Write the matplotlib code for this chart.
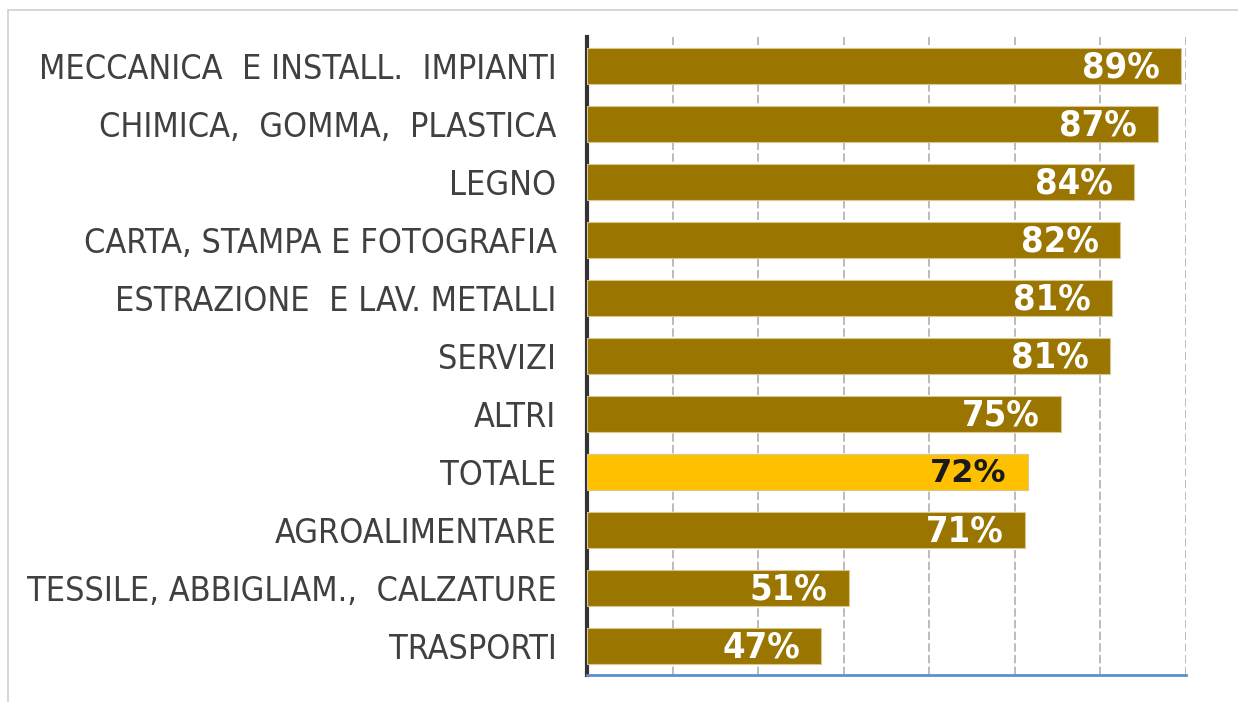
import matplotlib
matplotlib.use('Agg')
import matplotlib.pyplot as plt
from matplotlib.patches import Rectangle

# sectors, top to bottom as in the chart
sectors = ["MECCANICA  E INSTALL.  IMPIANTI", "CHIMICA,  GOMMA,  PLASTICA", "LEGNO",
           "CARTA, STAMPA E FOTOGRAFIA", "ESTRAZIONE  E LAV. METALLI", "SERVIZI",
           "ALTRI", "TOTALE", "AGROALIMENTARE", "TESSILE, ABBIGLIAM.,  CALZATURE",
           "TRASPORTI"]
values = [89.4, 86.7, 83.9, 82.3, 81.4, 81.1, 75.4, 71.5, 71.2, 50.6, 47.4]
labels = ["89%", "87%", "84%", "82%", "81%", "81%", "75%", "72%", "71%", "51%", "47%"]
highlight = "TOTALE"

gold = '#9A7500'
yellow = '#FFC000'

fig = plt.figure(figsize=(12.38, 7.02), dpi=100)
fig.patches.append(Rectangle((8/1238, -0.1), 1.2, 1 - 10/702 + 0.1,
                             transform=fig.transFigure, fill=False,
                             edgecolor='#D0D0D0', linewidth=1.2))
ax = fig.add_axes([587/1238, 1 - 675/702, 599/1238, 638/702])

ypos = list(range(len(sectors)))
colors = [yellow if s == highlight else gold for s in sectors]
ax.barh(ypos, [v - 20 for v in values], left=20, height=0.62, color=colors,
        edgecolor='#D8C890', linewidth=0.8, zorder=3)

for y, v, lab, s in zip(ypos, values, labels, sectors):
    if s == highlight:
        ax.text(v - 2.5, y + 0.03, lab, ha='right', va='center', fontsize=23,
                fontweight='bold', color='#1a1a1a', zorder=4)
    else:
        ax.text(v - 2.5, y + 0.03, lab, ha='right', va='center', fontsize=26,
                fontweight='bold', fontstretch='condensed', color='white', zorder=4)

ax.set_xlim(20, 90)
ax.set_ylim(len(sectors) - 0.5, -0.5)
ax.set_xticks(range(30, 91, 10))
ax.set_xticklabels([])
ax.tick_params(axis='x', length=0)
ax.tick_params(axis='y', length=0, pad=22)
ax.set_yticks(ypos)
ax.set_yticklabels(sectors, fontsize=24.5, color='#404040', fontstretch='condensed')
ax.grid(axis='x', color='#B0B0B0', linestyle=(0, (5, 2)), linewidth=1.2, zorder=0)
for side in ['top', 'right']:
    ax.spines[side].set_visible(False)
ax.spines['left'].set_color('#333333')
ax.spines['left'].set_linewidth(3)
ax.spines['bottom'].set_color('#5B8FC7')
ax.spines['bottom'].set_linewidth(2)

plt.savefig('out.png', dpi=100)
